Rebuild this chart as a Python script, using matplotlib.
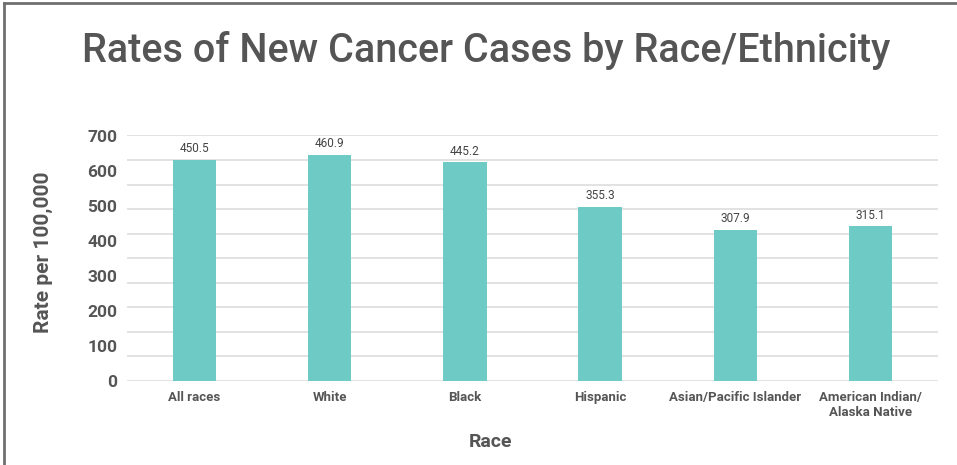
import numpy as np
import matplotlib
matplotlib.use('Agg')
import matplotlib.pyplot as plt
from matplotlib.lines import Line2D

plt.rcParams['font.family'] = ['Roboto', 'DejaVu Sans']

races = ['All races', 'White', 'Black', 'Hispanic',
         'Asian/Pacific Islander', 'American Indian/\nAlaska Native']
rates = [450.5, 460.9, 445.2, 355.3, 307.9, 315.1]
rate_labels = ['450.5', '460.9', '445.2', '355.3', '307.9', '315.1']
# the source chart prints 0..700 evenly across an axis that really runs 0..500
ytick_labels = ['0', '100', '200', '300', '400', '500', '600', '700']

bar_color = '#6ECAC5'
text_color = '#555555'

fig = plt.figure(figsize=(9.57, 4.65), dpi=100)
ax = fig.add_axes([127 / 957, 84 / 465, 811 / 957, 245.5 / 465])

x = np.arange(len(races))
ax.bar(x, rates, width=0.32, color=bar_color, zorder=3)

for xi, v, lab in zip(x, rates, rate_labels):
    ax.text(xi, v + 9, lab, ha='center', va='bottom', fontsize=8.5,
            color='#444444', zorder=4)

ax.set_xlim(-0.5, len(races) - 0.5)
ax.set_ylim(0, 500)

# grid every 50
for g in np.arange(50, 501, 50):
    ax.axhline(g, color='#dddddd', lw=1.2, zorder=1)
ax.axhline(0, color='#e3e3e3', lw=2.2, zorder=2)

ax.set_yticks(np.linspace(0, 500, len(ytick_labels)))
ax.set_yticklabels(ytick_labels, fontsize=12.5, fontweight='bold', color=text_color)
ax.set_xticks(x)
ax.set_xticklabels(races, fontsize=9.5, fontweight='bold', color=text_color,
                   linespacing=1.25, va='top')
ax.tick_params(axis='both', length=0)
ax.tick_params(axis='y', pad=7)
ax.tick_params(axis='x', pad=7)

for s in ax.spines.values():
    s.set_visible(False)

ax.set_ylabel('Rate per 100,000', fontsize=15, fontweight='bold', color=text_color)
ax.yaxis.set_label_coords((53 - 127) / 811, 0.525)
ax.set_xlabel('Race', fontsize=14, fontweight='bold', color=text_color)
ax.xaxis.set_label_coords((490 - 127) / 811, -0.21)

fig.text(486 / 957, 1 - 50 / 465, 'Rates of New Cancer Cases by Race/Ethnicity',
         ha='center', va='center', fontsize=28.5, fontweight='medium', color=text_color)

# frame on left and top edges
fig.add_artist(Line2D([4 / 957, 4 / 957], [0, 1 - 3 / 465], transform=fig.transFigure,
                      color='#707070', lw=2))
fig.add_artist(Line2D([4 / 957, 1], [1 - 3 / 465, 1 - 3 / 465], transform=fig.transFigure,
                      color='#707070', lw=2))

fig.savefig('out.png', dpi=100)
